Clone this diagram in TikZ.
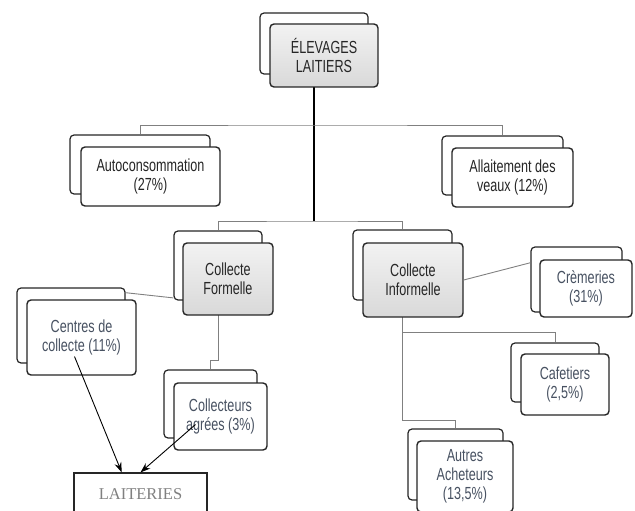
\documentclass[tikz,border=0pt]{standalone}
\usepackage{fontspec}
\setmainfont{Liberation Sans}[FakeStretch=0.72]
\newfontfamily\laitfont{Liberation Serif}
\usetikzlibrary{arrows.meta}

\begin{document}
\begin{tikzpicture}[x=1pt,y=-1pt,
  backbox/.style={draw=black!85, line width=1.2pt, rounded corners=4pt, fill=white, inner sep=0pt},
  mainbox/.style={draw=black!85, line width=1.4pt, rounded corners=4pt, top color=gray!10, bottom color=gray!30,
    inner sep=0pt, align=center, text=black!85, font=\fontsize{17.5}{19}\selectfont},
  leafbox/.style={draw=black!85, line width=1.4pt, rounded corners=4pt, fill=white,
    inner sep=0pt, align=center, text=black!85, font=\fontsize{17.5}{19}\selectfont},
  bluetext/.style={text={rgb,255:red,72;green,82;blue,98}},
  link/.style={draw=gray, line width=0.9pt},
  trunk/.style={draw=black, line width=1.3pt},
  arr/.style={-{Stealth[length=10pt,width=7pt]}, line width=0.9pt},
]
\useasboundingbox (0,0) rectangle (635,511);

%% junctions of the tree
\coordinate (j1) at (314,125);
\coordinate (j2) at (314,221);
\coordinate (j3) at (218,360);
\coordinate (j4) at (402.5,332);
\coordinate (j5) at (402.5,420);

%% back boxes
\node[backbox, minimum width=108, minimum height=61] (elev-b) at (314,43.5) {};
\node[backbox, minimum width=140, minimum height=59] (auto-b) at (140,164.5) {};
\node[backbox, minimum width=121, minimum height=59] (allait-b) at (502.5,165.5) {};
\node[backbox, minimum width=88, minimum height=69] (form-b) at (218,265.5) {};
\node[backbox, minimum width=99, minimum height=70] (inform-b) at (402.5,265) {};
\node[backbox, minimum width=108, minimum height=75] (cent-b) at (71,325.5) {};
\node[backbox, minimum width=93, minimum height=68] (coll-b) at (210.5,404) {};
\node[backbox, minimum width=91, minimum height=65] (crem-b) at (576.5,279.5) {};
\node[backbox, minimum width=88, minimum height=59] (caf-b) at (555,372.5) {};
\node[backbox, minimum width=95, minimum height=71] (autr-b) at (455.5,464.5) {};

%% tree lines
\draw[trunk] (elev-b.south) -- (j2);
\draw[link] (auto-b.north) |- (j1) -| (allait-b.north);
\draw[link] (form-b.north) |- (j2) -| (inform-b.north);
\draw[link] (cent-b.31) -- (form-b.-144);
\draw[link] (form-b.south) -- (j3) -| (coll-b.north);
\draw[link] (inform-b.south) -- (j5) -| (autr-b.north);
\draw[link] (j4) -| (caf-b.north);

%% front boxes
\node[mainbox, minimum width=108, minimum height=63] (elev) at (324,55.5) {ÉLEVAGES\\LAITIERS};
\node[leafbox, minimum width=139, minimum height=59] (auto) at (150.5,176.5) {Autoconsommation\\(27\%)};
\node[leafbox, minimum width=121, minimum height=59] (allait) at (512.5,177.5) {Allaitement des\\veaux (12\%)};
\node[mainbox, minimum width=90, minimum height=72] (form) at (228,279) {Collecte\\Formelle};
\node[mainbox, minimum width=100, minimum height=74] (inform) at (413,280) {Collecte\\Informelle};
\node[leafbox, bluetext, minimum width=109, minimum height=75] (cent) at (81.5,337.5) {Centres de\\collecte (11\%)};
\node[leafbox, bluetext, minimum width=93, minimum height=67] (coll) at (220.5,416.5) {Collecteurs\\agrées (3\%)};
\node[leafbox, bluetext, minimum width=92, minimum height=57] (crem) at (586,288.5) {Crèmeries\\(31\%)};
\node[leafbox, bluetext, minimum width=88, minimum height=61] (caf) at (565,384.5) {Cafetiers\\(2,5\%)};
\node[leafbox, bluetext, minimum width=96, minimum height=71] (autr) at (465,476.5) {Autres\\Acheteurs\\(13,5\%)};
\draw[link] (inform.east) -- (crem-b.160);

%% laiteries
\node[draw=black!85, line width=1.2pt, minimum width=133, minimum height=42, inner sep=0pt,
  text=gray, font=\laitfont\fontsize{16.5}{18}\selectfont] (lait) at (140.5,494) {LAITERIES};
\draw[arr] (cent.center) ++(-7,19) -- (lait.131);
\draw[arr] (coll.center) ++(-25,8) -- (lait.north);
\end{tikzpicture}
\end{document}
